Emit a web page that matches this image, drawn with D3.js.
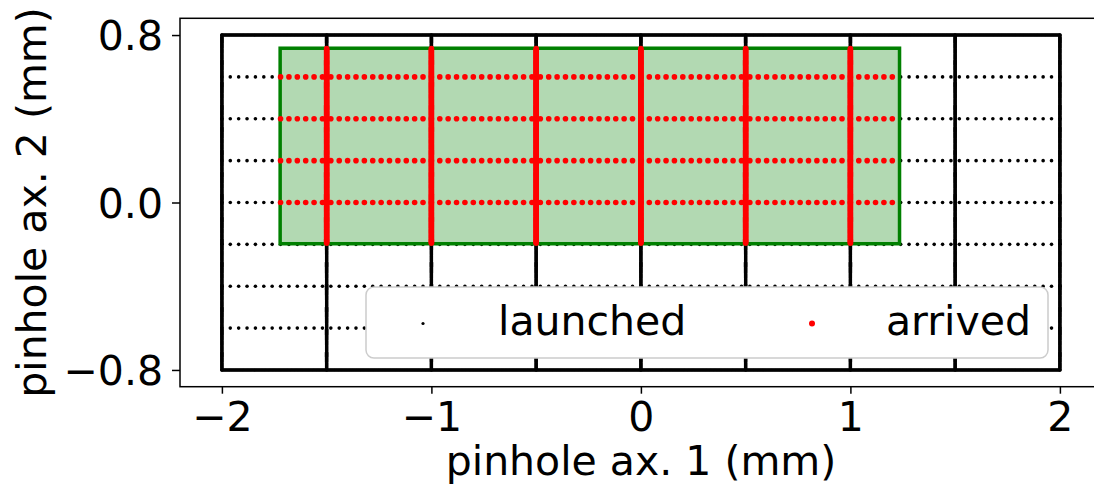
<!DOCTYPE html>
<html>
<head>
<meta charset="utf-8">
<script src="https://cdn.jsdelivr.net/npm/d3@7"></script>
<style>
  html, body { margin: 0; padding: 0; background: #fff; }
  svg text { font-family: "DejaVu Sans", sans-serif; fill: #000; }
</style>
</head>
<body>
<svg id="chart" width="1094" height="488"></svg>
<script>
// ---- data -------------------------------------------------------------
// Axis ranges and tick values (mm)
const xDomain = [-2.2, 2.2];
const yDomain = [-0.88, 0.88];
const xTicks = [-2, -1, 0, 1, 2];
const yTicks = [-0.8, 0, 0.8];

// Launch grid: rows/columns of rays traced through the pinhole plane
const gridX = [-2, 2];                       // extent of the launch grid, ax. 1
const gridY = [-0.8, 0.8];                   // extent of the launch grid, ax. 2
const sparseRowsY = [-0.6, -0.4, -0.2, 0, 0.2, 0.4, 0.6]; // rows sampled every sparsePitch
const denseColsX = [-2, -1.5, -1, -0.5, 0, 0.5, 1, 1.5, 2]; // columns sampled every densePitch
const denseRowsY = [-0.8, 0.8];              // border rows sampled every densePitch
const sparsePitch = 0.04;
const densePitch = 0.005;

// Pinhole aperture (rays inside it arrive)
const apertureX = [-1.722, 1.2345];
const apertureY = [-0.197, 0.737];

// Legend entries
const legendLabels = ["launched", "arrived"];

// ---- geometry -----------------------------------------------------------
const svg = d3.select("#chart");
const x = d3.scaleLinear().domain(xDomain).range([180, 1101.8]);
const y = d3.scaleLinear().domain(yDomain).range([386.7, 18.3]);

const samples = (a, b, step) => {
  const n = Math.round((b - a) / step);
  return d3.range(n + 1).map(i => +(a + i * step).toFixed(6));
};

const launched = [];
sparseRowsY.forEach(yy => samples(gridX[0], gridX[1], sparsePitch).forEach(xx => launched.push([xx, yy])));
denseRowsY.forEach(yy => samples(gridX[0], gridX[1], densePitch).forEach(xx => launched.push([xx, yy])));
denseColsX.forEach(xx => samples(gridY[0], gridY[1], densePitch).forEach(yy => launched.push([xx, yy])));

const arrived = launched.filter(([xx, yy]) =>
  xx > apertureX[0] && xx < apertureX[1] && yy > apertureY[0] && yy < apertureY[1]);

// ---- marks --------------------------------------------------------------
const plot = svg.append("g");

plot.append("g").selectAll("circle").data(launched).join("circle")
  .attr("cx", d => x(d[0])).attr("cy", d => y(d[1])).attr("r", 1.8)
  .attr("fill", "#000");

plot.append("rect")
  .attr("x", x(apertureX[0])).attr("y", y(apertureY[1]))
  .attr("width", x(apertureX[1]) - x(apertureX[0]))
  .attr("height", y(apertureY[0]) - y(apertureY[1]))
  .attr("fill", "rgb(0,128,0)").attr("fill-opacity", 0.3)
  .attr("stroke", "#008000").attr("stroke-width", 3.5);

plot.append("g").selectAll("circle").data(arrived).join("circle")
  .attr("cx", d => x(d[0])).attr("cy", d => y(d[1])).attr("r", 2.8)
  .attr("fill", "#ff0000");

// ---- axes ---------------------------------------------------------------
const fmtX = d => (d < 0 ? "\u2212" : "") + Math.abs(d);
const fmtY = d => (d < 0 ? "\u2212" : "") + Math.abs(d).toFixed(1);

const xAxis = svg.append("g").attr("transform", `translate(0,${y(yDomain[0])})`)
  .call(d3.axisBottom(x).tickValues(xTicks).tickFormat(fmtX).tickSize(7).tickSizeOuter(0).tickPadding(8));
const yAxis = svg.append("g").attr("transform", `translate(${x(xDomain[0])},0)`)
  .call(d3.axisLeft(y).tickValues(yTicks).tickFormat(fmtY).tickSize(8).tickSizeOuter(0).tickPadding(9));

[xAxis, yAxis].forEach(ax => {
  ax.select(".domain").remove();
  ax.selectAll(".tick line").attr("stroke", "#000").attr("stroke-width", 1.5);
  ax.selectAll(".tick text").style("font-size", "41px").attr("fill", "#000");
});
xAxis.selectAll(".tick text").attr("dy", "0.71em");
yAxis.selectAll(".tick text").attr("dy", "0.36em");

// frame
svg.append("rect")
  .attr("x", x(xDomain[0])).attr("y", y(yDomain[1]))
  .attr("width", x(xDomain[1]) - x(xDomain[0]))
  .attr("height", y(yDomain[0]) - y(yDomain[1]))
  .attr("fill", "none").attr("stroke", "#000").attr("stroke-width", 1.5);

// axis titles
svg.append("text").attr("x", 641).attr("y", 475).attr("text-anchor", "middle")
  .style("font-size", "41px").text("pinhole ax. 1 (mm)");
svg.append("text").attr("transform", `translate(46,${(y(yDomain[0]) + y(yDomain[1])) / 2}) rotate(-90)`)
  .attr("text-anchor", "middle").style("font-size", "41px").text("pinhole ax. 2 (mm)");

// ---- legend ---------------------------------------------------------------
const legend = svg.append("g");
legend.append("rect").attr("x", 366).attr("y", 287).attr("width", 682).attr("height", 71)
  .attr("rx", 8).attr("fill", "#fff").attr("stroke", "#cccccc").attr("stroke-width", 1.5);

const legendItems = [
  { label: legendLabels[0], color: "#000", r: 1.6, mx: 423, tx: 498 },
  { label: legendLabels[1], color: "#ff0000", r: 3, mx: 812, tx: 886 }
];
legendItems.forEach(it => {
  legend.append("circle").attr("cx", it.mx).attr("cy", 323.5).attr("r", it.r).attr("fill", it.color);
  legend.append("text").attr("x", it.tx).attr("y", 335).style("font-size", "41px").text(it.label);
});
</script>
</body>
</html>
